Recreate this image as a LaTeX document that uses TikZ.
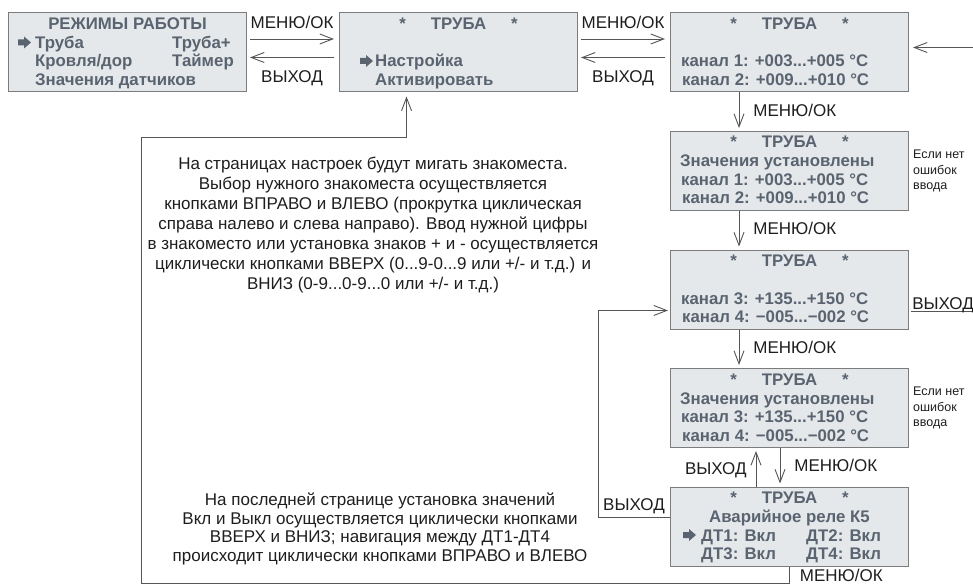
\documentclass[tikz,border=0pt]{standalone}
\usepackage{fontspec}
\setmainfont{Liberation Sans}
\usetikzlibrary{positioning, arrows.meta}

\definecolor{lcdfill}{HTML}{E4E8EB}
\definecolor{lcdframe}{HTML}{7C7C7C}
\definecolor{lcdink}{HTML}{5A6470}
\definecolor{wire}{HTML}{555555}
\definecolor{ink}{HTML}{1E1E1E}

\tikzset{
  lcd/.style={draw=lcdframe, line width=1pt, fill=lcdfill, minimum width=238pt, minimum height=79pt, inner sep=0pt},
  lcdline/.style={text=lcdink, font=\bfseries\fontsize{16.8}{18}\selectfont, inner sep=0pt, text height=12pt, text depth=0pt},
  key/.style={text=ink, font=\fontsize{17}{18}\selectfont, inner sep=0pt, text height=12pt, text depth=0pt},
  hint/.style={text=ink, font=\fontsize{17}{20}\selectfont, align=center, inner sep=0pt},
  aside/.style={text=ink, font=\fontsize{12.5}{15.5}\selectfont, align=left, inner sep=0pt},
  link/.style={draw=wire, line width=0.9pt, -{Straight Barb[length=13pt, width=10pt]}},
  pointer/.pic={\fill[lcdink] (0,-3) -- (6,-3) -- (6,-6) -- (13,0) -- (6,6) -- (6,3) -- (0,3) -- cycle;},
}

\begin{document}
\begin{tikzpicture}[x=1pt, y=-1pt]
    \useasboundingbox (0,0) rectangle (973,585);

    % screens
    \node[lcd] (m1) at (127.5,52.5) {};
    \node[lcd, right=92pt of m1] (m2) {};
    \node[lcd, right=92pt of m2] (b3) {};
    \node[lcd, below=38.5pt of b3] (b4) {};
    \node[lcd, below=38.5pt of b4] (b5) {};
    \node[lcd, below=38.5pt of b5] (b6) {};
    \node[lcd, below=38.5pt of b6] (b7) {};

    % main menu
    \node[lcdline] (m1t) at ([shift={(0,11)}]m1.north) {РЕЖИМЫ РАБОТЫ};
    \pic at ([shift={(10,30)}]m1.north west) {pointer};
    \node[lcdline, anchor=west] (m1a) at ([shift={(27,30)}]m1.north west) {Труба};
    \node[lcdline, anchor=west] (m1b) at ([shift={(164,30)}]m1.north west) {Труба+};
    \node[lcdline, anchor=west] (m1c) at ([shift={(27,48.5)}]m1.north west) {Кровля/дор};
    \node[lcdline, anchor=west] (m1d) at ([shift={(164,48.5)}]m1.north west) {Таймер};
    \node[lcdline, anchor=west] (m1e) at ([shift={(27,67)}]m1.north west) {Значения датчиков};

    % pipe menu
    \node[lcdline] (m2t) at ([shift={(0,11)}]m2.north) {*\hspace{25pt}ТРУБА\hspace{25pt}*};
    \pic at ([shift={(21,48.5)}]m2.north west) {pointer};
    \node[lcdline, anchor=west] (m2a) at ([shift={(36,48.5)}]m2.north west) {Настройка};
    \node[lcdline, anchor=west] (m2b) at ([shift={(36,67)}]m2.north west) {Активировать};

    % channels 1-2
    \node[lcdline] (b3t) at ([shift={(0,11)}]b3.north) {*\hspace{25pt}ТРУБА\hspace{25pt}*};
    \node[lcdline, anchor=west] (b3a) at ([shift={(11,48.5)}]b3.north west) {канал 1: +003...+005 °C};
    \node[lcdline, anchor=west] (b3b) at ([shift={(12,67)}]b3.north west) {канал 2: +009...+010 °C};

    \node[lcdline] (b4t) at ([shift={(0,11)}]b4.north) {*\hspace{25pt}ТРУБА\hspace{25pt}*};
    \node[lcdline, anchor=west] (b4a) at ([shift={(10,30)}]b4.north west) {Значения установлены};
    \node[lcdline, anchor=west] (b4b) at ([shift={(11,48.5)}]b4.north west) {канал 1: +003...+005 °C};
    \node[lcdline, anchor=west] (b4c) at ([shift={(12,67)}]b4.north west) {канал 2: +009...+010 °C};

    % channels 3-4
    \node[lcdline] (b5t) at ([shift={(0,11)}]b5.north) {*\hspace{25pt}ТРУБА\hspace{25pt}*};
    \node[lcdline, anchor=west] (b5a) at ([shift={(11,48.5)}]b5.north west) {канал 3: +135...+150 °C};
    \node[lcdline, anchor=west] (b5b) at ([shift={(12,67)}]b5.north west) {канал 4: −005...−002 °C};

    \node[lcdline] (b6t) at ([shift={(0,11)}]b6.north) {*\hspace{25pt}ТРУБА\hspace{25pt}*};
    \node[lcdline, anchor=west] (b6a) at ([shift={(10,30)}]b6.north west) {Значения установлены};
    \node[lcdline, anchor=west] (b6b) at ([shift={(11,48.5)}]b6.north west) {канал 3: +135...+150 °C};
    \node[lcdline, anchor=west] (b6c) at ([shift={(12,67)}]b6.north west) {канал 4: −005...−002 °C};

    % relay
    \node[lcdline] (b7t) at ([shift={(0,11)}]b7.north) {*\hspace{25pt}ТРУБА\hspace{25pt}*};
    \node[lcdline] (b7a) at ([shift={(0,30)}]b7.north) {Аварийное реле К5};
    \pic at ([shift={(13,48.5)}]b7.north west) {pointer};
    \node[lcdline, anchor=west] (b7b) at ([shift={(31,48.5)}]b7.north west) {ДТ1: Вкл};
    \node[lcdline, anchor=west] (b7c) at ([shift={(136,48.5)}]b7.north west) {ДТ2: Вкл};
    \node[lcdline, anchor=west] (b7d) at ([shift={(31,67)}]b7.north west) {ДТ3: Вкл};
    \node[lcdline, anchor=west] (b7e) at ([shift={(136,67)}]b7.north west) {ДТ4: Вкл};

    % top row
    \draw[link] ([shift={(3,-13.5)}]m1.east) -- node[key, above=10pt] {МЕНЮ/ОК} ([shift={(-5,-13.5)}]m2.west);
    \draw[link] ([shift={(-5,5)}]m2.west) -- node[key, below=13pt] {ВЫХОД} ([shift={(3,5)}]m1.east);
    \draw[link] ([shift={(3,-13.5)}]m2.east) -- node[key, above=10pt] {МЕНЮ/ОК} ([shift={(-5,-13.5)}]b3.west);
    \draw[link] ([shift={(-5,5)}]b3.west) -- node[key, below=13pt] {ВЫХОД} ([shift={(3,5)}]m2.east);
    \coordinate (feed) at ([shift={(67,-5)}]b3.east);
    \draw[link] (feed) -- ([shift={(4,-5)}]b3.east);

    % right column
    \draw[link] ([shift={(-50.5,0)}]b3.south) -- node[key, right=14pt] {МЕНЮ/ОК} ([shift={(-50.5,-3)}]b4.north);
    \draw[link] ([shift={(-50.5,0)}]b4.south) -- node[key, right=14pt] {МЕНЮ/ОК} ([shift={(-50.5,-3)}]b5.north);
    \draw[link] ([shift={(-50.5,0)}]b5.south) -- node[key, right=14pt] {МЕНЮ/ОК} ([shift={(-50.5,-3)}]b6.north);
    \draw[link] ([shift={(-9.5,0)}]b6.south) -- node[key, right=14pt] {МЕНЮ/ОК} ([shift={(-9.5,-3)}]b7.north);
    \draw[link] ([shift={(-33.5,0)}]b7.north) -- node[key, left=9pt] {ВЫХОД} ([shift={(-33.5,3)}]b6.south);

    \coordinate (quit) at ([shift={(66,22)}]b5.east);
    \draw[wire, line width=0.9pt] ([shift={(2,22)}]b5.east) -- node[key, above=2pt] {ВЫХОД} (quit);

    \node[aside, anchor=west] (n4) at ([xshift=4pt]b4.east) {Если нет\\ошибок\\ввода};
    \node[aside, anchor=west] (n6) at ([xshift=4pt]b6.east) {Если нет\\ошибок\\ввода};

    % way back
    \draw[link] ([shift={(0,-9.5)}]b7.west) -- node[key, above=6pt] {ВЫХОД} ++(-72,0) |- ([shift={(-2,21)}]b5.west);
    \draw[link] (b7.south) -- node[key, right=10pt, pos=0.55] {МЕНЮ/ОК} ++(0,17) -| (141,137) -| ([shift={(-52,4)}]m2.south);

    % notes
    \node[hint] (tip1) at (373,225) {На страницах настроек будут мигать знакоместа.\\
      Выбор нужного знакоместа осуществляется\\
      кнопками ВПРАВО и ВЛЕВО (прокрутка циклическая\\
      справа налево и слева направо). Ввод нужной цифры\\
      в знакоместо или установка знаков + и - осуществляется\\
      циклически кнопками ВВЕРХ (0...9-0...9 или +/- и т.д.) и\\
      ВНИЗ (0-9...0-9...0 или +/- и т.д.)};
    \node[hint, font=\fontsize{17}{18.5}\selectfont] (tip2) at (380,529) {На последней странице установка значений\\
      Вкл и Выкл осуществляется циклически кнопками\\
      ВВЕРХ и ВНИЗ; навигация между ДТ1-ДТ4\\
      происходит циклически кнопками ВПРАВО и ВЛЕВО};
\end{tikzpicture}
\end{document}
